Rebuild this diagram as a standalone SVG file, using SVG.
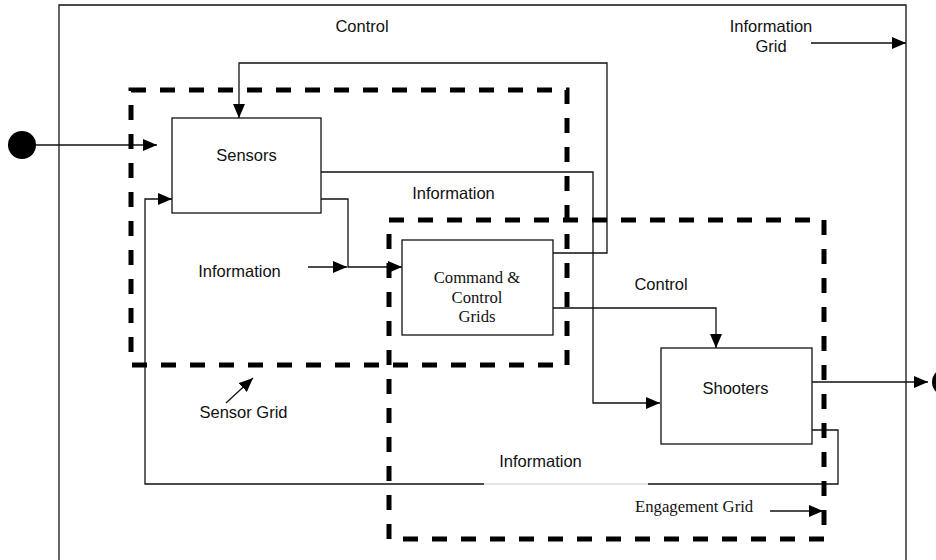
<svg xmlns="http://www.w3.org/2000/svg" width="936" height="560" viewBox="0 0 936 560">
  <style>
    .ln { fill: none; stroke: #111; stroke-width: 1.3; }
    .arr { marker-end: url(#head); }
    .grid { fill: none; stroke: #000; stroke-width: 5; stroke-dasharray: 15 14; }
    .box { fill: #fff; stroke: #111; stroke-width: 1.3; }
    .sans { font-family: "Liberation Sans", Arial, sans-serif; font-size: 16.5px; fill: #111; }
    .serif { font-family: "Liberation Serif", "Times New Roman", serif; font-size: 16.7px; fill: #111; }
    .mid { text-anchor: middle; }
  </style>
  <defs>
    <marker id="head" markerUnits="userSpaceOnUse" markerWidth="14" markerHeight="12" refX="14" refY="6" orient="auto">
      <path d="M0,0 L14,6 L0,12 Z" fill="#000"/>
    </marker>
  </defs>

  <rect width="936" height="560" fill="#fff"/>

  <!-- outer frame (open at the bottom) -->
  <path class="ln" d="M59,560 V5 H906 V560"/>

  <!-- external source and sink -->
  <circle id="source" cx="22" cy="145" r="14" fill="#000"/>
  <circle id="sink" cx="946" cy="382" r="14" fill="#000"/>

  <g id="connectors">
    <!-- input into Sensors -->
    <path class="ln arr" d="M36,145 H157"/>
    <!-- control feedback from C2 to Sensors -->
    <path class="ln arr" d="M553,253 H607 V63 H239 V118"/>
    <!-- Sensors to Shooters -->
    <path class="ln arr" d="M321,172 H593 V403 H660"/>
    <!-- Sensors to C2 -->
    <path class="ln arr" d="M321,199 H348 V267 H402"/>
    <!-- information label arrow -->
    <path class="ln arr" d="M308,267 H347"/>
    <!-- C2 control to Shooters -->
    <path class="ln arr" d="M553,308 H716 V348"/>
    <!-- Shooters output -->
    <path class="ln arr" d="M812,382 H928"/>
    <!-- Shooters information feedback to Sensors -->
    <path class="ln" d="M812,430 H838 V484 H648"/>
    <path d="M648,484 H484" fill="none" stroke="#ddd" stroke-width="1.3"/>
    <path class="ln arr" d="M484,484 H145 V199 H172"/>
    <!-- Information Grid arrow -->
    <path class="ln arr" d="M811,43 H906"/>
    <!-- Engagement Grid arrow -->
    <path class="ln arr" d="M770,511 H823"/>
    <!-- Sensor Grid arrow -->
    <path class="ln arr" d="M226,403 L253,378"/>
  </g>

  <!-- dashed grid boundaries -->
  <g id="sensor-grid">
    <rect class="grid" x="131" y="90" width="436" height="275"/>
  </g>
  <g id="engagement-grid">
    <rect class="grid" x="389" y="220" width="435" height="319"/>
  </g>

  <g id="sensors">
    <rect class="box" x="172" y="118" width="149" height="95"/>
    <text class="sans mid" x="246.5" y="161">Sensors</text>
  </g>

  <g id="command-control">
    <rect class="box" x="402" y="240" width="151" height="95"/>
    <text class="serif mid" x="477" y="283">Command &amp;</text>
    <text class="serif mid" x="477" y="302.5">Control</text>
    <text class="serif mid" x="477" y="321.5">Grids</text>
  </g>

  <g id="shooters">
    <rect class="box" x="661" y="348" width="151" height="96"/>
    <text class="sans mid" x="735.5" y="394">Shooters</text>
  </g>

  <!-- labels -->
  <g id="labels">
    <text class="sans mid" x="362" y="32">Control</text>
    <text class="sans mid" x="771" y="32">Information</text>
    <text class="sans mid" x="771" y="51.5">Grid</text>
    <text class="sans mid" x="453.5" y="199">Information</text>
    <text class="sans mid" x="239.5" y="276.5">Information</text>
    <text class="sans mid" x="661" y="290">Control</text>
    <text class="sans mid" x="540.5" y="466.5">Information</text>
    <text class="sans mid" x="243.5" y="418">Sensor Grid</text>
    <text class="serif" x="635" y="512">Engagement Grid</text>
  </g>
</svg>
